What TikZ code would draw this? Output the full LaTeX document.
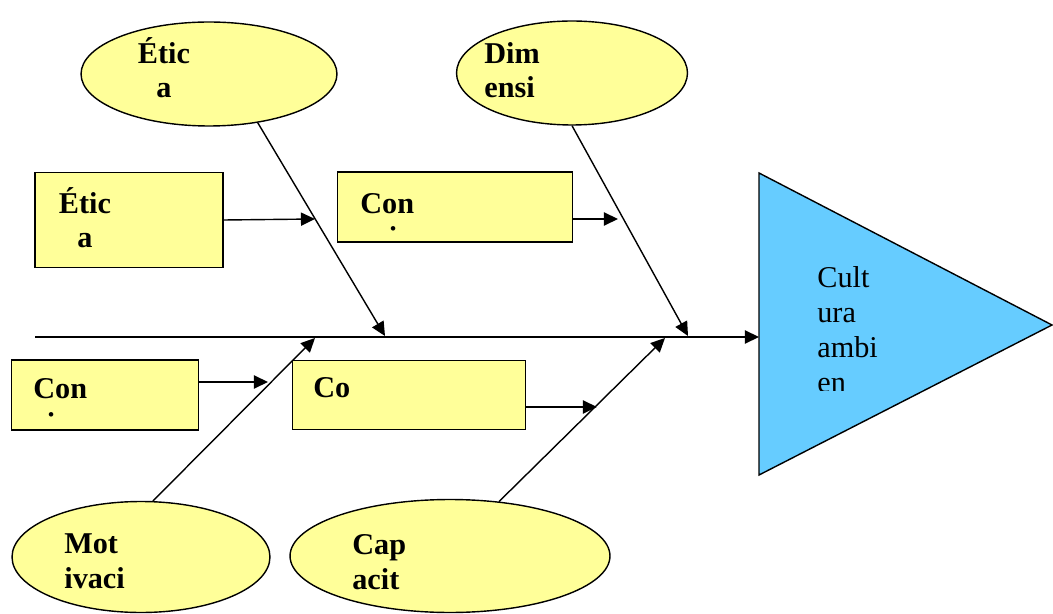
\documentclass[tikz,border=0pt]{standalone}
\usepackage{fontspec}
\setmainfont{Liberation Serif}
\usepackage{xcolor}
\usepackage{tikz}
\usetikzlibrary{shapes.geometric, arrows.meta, positioning, calc}
\definecolor{causeyellow}{RGB}{255, 255, 153}
\definecolor{effectblue}{RGB}{102, 204, 255}

\begin{document}
\begin{tikzpicture}[x=0.02cm, y=-0.02cm,
    oval/.style={ellipse, draw=black, line width=0.8pt, fill=causeyellow, inner sep=0pt},
    causebox/.style={rectangle, draw=black, line width=0.8pt, fill=causeyellow, inner sep=0pt},
    lbl/.style={font=\fontsize{17.2}{19.8}\selectfont\bfseries, inner sep=0pt, align=left, anchor=base west},
    arr/.style={line width=0.8pt, -{Triangle[length=8pt, width=7.5pt]}}]
    \useasboundingbox (0,0) rectangle (1053,614);

    % effect
    \draw[fill=effectblue, line width=0.8pt] (759,173) -- (1052,325) -- (759,475) -- cycle;
    \coordinate (triwest) at (759,337);
    \begin{scope}
        \clip (800,250) rectangle (920,390);
        \node[lbl, font=\fontsize{17.2}{19.8}\selectfont] (effect) at (817,392) {Cult\\ura\\ambi\\en};
    \end{scope}

    % causes (ovals)
    \node[oval, minimum width=5.12cm, minimum height=2.08cm] (eticoval) at (209,74) {};
    \node[oval, minimum width=4.62cm, minimum height=2.08cm] (dimoval) at (572,73) {};
    \node[oval, minimum width=5.16cm, minimum height=2.22cm] (motoval) at (141,557) {};
    \node[oval, minimum width=6.4cm, minimum height=2.26cm] (capoval) at (450,556) {};
    \node[lbl, align=center, anchor=base] (etictext) at (164,98) {Étic\\a};
    \node[lbl] (dimtext) at (484,98) {Dim\\ensi};
    \node[lbl] (mottext) at (64,588) {Mot\\ivaci};
    \node[lbl] (captext) at (352,589) {Cap\\acit};

    % causes (boxes)
    \node[causebox, minimum width=3.76cm, minimum height=1.9cm] (eticbox) at (129,220) {};
    \node[causebox, minimum width=4.7cm, minimum height=1.4cm] (conbox) at (455,207) {};
    \node[causebox, minimum width=3.74cm, minimum height=1.4cm] (concbox) at (105,395) {};
    \node[causebox, minimum width=4.66cm, minimum height=1.38cm] (cobox) at (409,395) {};
    \node[lbl, align=center, anchor=base] (eticboxtext) at (85,248) {Étic\\a};
    \begin{scope}
        \clip (338,172) rectangle (573,232);
        \node[lbl] (context) at (360,248) {Con\\oci};
    \end{scope}
    \begin{scope}
        \clip (12,360) rectangle (198,417);
        \node[lbl] (conctext) at (33,433) {Con\\ci};
    \end{scope}
    \node[lbl] (cotext) at (313,397) {Co};

    % spine
    \coordinate (spinestart) at (35,337);
    \draw[arr] (spinestart) -- (triwest);

    % bones
    \coordinate (eticend) at (385,336);
    \coordinate (dimend) at (688,336);
    \coordinate (motend) at (315,338);
    \coordinate (capend) at (665,338);
    \draw[arr] (eticoval.-45) -- (eticend);
    \draw[arr] (dimoval.south) -- (dimend);
    \draw[arr] (motoval.78) -- (motend);
    \draw[arr] (capoval.48) -- (capend);

    % small bones
    \coordinate (eticboxend) at (315,219);
    \coordinate (conboxend) at (618,219);
    \coordinate (concboxend) at (268,382);
    \coordinate (coboxend) at (597,407);
    \draw[arr] (eticbox.east) -- (eticboxend);
    \draw[arr] (conboxend -| conbox.east) -- (conboxend);
    \draw[arr] (concboxend -| concbox.east) -- (concboxend);
    \draw[arr] (coboxend -| cobox.east) -- (coboxend);
\end{tikzpicture}
\end{document}
